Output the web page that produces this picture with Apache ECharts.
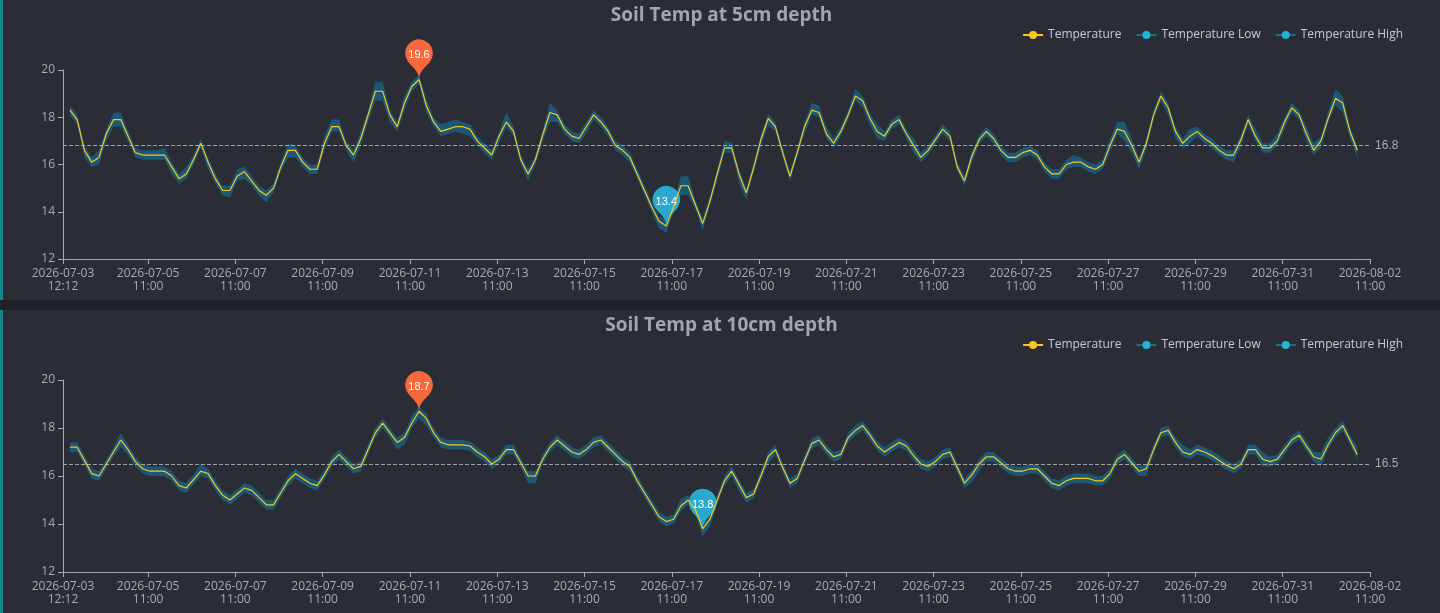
<!DOCTYPE html>
<html lang="en">
<head>
<meta charset="utf-8">
<title>Soil Temp</title>
<script src="https://cdn.jsdelivr.net/npm/echarts@6/dist/echarts.min.js"></script>
<style>
  html, body { margin: 0; padding: 0; background: #1f2226; width: 1440px; height: 613px; overflow: hidden; }
  .panel { position: absolute; left: 0; width: 1440px; background: #2a2d35; border-left: 3px solid #17858a; box-sizing: border-box; }
  #c5 { top: 0; height: 300px; }
  #c10 { top: 310px; height: 303px; }
</style>
</head>
<body>
<div id="c5" class="panel"></div>
<div id="c10" class="panel"></div>
<script>
// readings every 4 hours, first at 2026-07-03 16:00
var temp5 = [18.3,17.9,16.6,16.1,16.3,17.3,17.9,17.9,17.2,16.5,16.4,16.4,16.4,16.4,15.9,15.4,15.6,16.2,16.9,16.1,
  15.4,14.9,14.9,15.5,15.7,15.3,14.9,14.7,15.0,15.9,16.6,16.6,16.1,15.8,15.8,16.9,17.6,17.6,16.8,16.4,
  17.1,18.1,19.1,19.1,18.1,17.6,18.6,19.3,19.6,18.5,17.8,17.4,17.5,17.6,17.6,17.5,17.0,
  16.7,16.4,17.2,17.8,17.4,16.2,15.6,16.2,17.25,18.2,18.1,17.5,17.2,17.1,17.6,18.1,17.8,17.4,16.8,16.6,
  16.3,15.6,14.9,14.2,13.6,13.4,14.2,15.1,15.1,14.3,13.5,14.45,15.6,16.7,16.7,15.6,14.8,15.85,17.05,17.95,
  17.6,16.5,15.5,16.5,17.6,18.3,18.2,17.3,16.9,17.4,18.1,18.9,18.7,17.95,17.4,17.2,17.7,17.9,17.3,16.8,
  16.3,16.6,17.05,17.5,17.2,15.9,15.3,
  16.35,17.05,17.4,17.1,16.6,16.3,16.3,16.5,16.6,16.4,15.9,15.6,15.6,16.0,16.1,16.1,15.9,15.8,16.0,16.8,
  17.5,17.4,16.8,16.1,16.9,18.1,18.9,18.4,17.4,16.9,17.2,17.4,17.1,16.9,16.6,16.4,16.4,17.05,17.9,17.2,
  16.7,16.7,17.0,17.8,18.4,18.1,17.3,16.6,17.0,17.95,18.8,18.6,17.4,16.6];
// band below / above the reading, in steps of 0.1 °C
var lowGap5 = [2,2,3,2,3,3,3,3,2,2,2,2,2,2,3,2,2,2,2,3,2,2,3,2,3,2,2,3,2,2,3,3,2,2,2,3,2,2,2,3,
  3,3,4,4,3,2,3,2,2,3,2,2,2,2,3,3,2, 2,2,3,2,2,2,3,2,3,4,3,2,2,2,3,2,2,2,2,2,2,2,2,2,3,3,2,4,4,2,3,2,3,2,
  2,4,3,2,3,3,2,2,2,2,3,2,2,2,2,2,2,2,3,3,3,2,2,2,2,3,2,2,2,2,2,2,2,
  3,2,2,2,2,2,2,2,2,2,2,2,2,2,2,2,2,2,2,3,2,4,3,3,3,2,2,3,3,2,3,2,2,2,2,2,3,3,2,2,2,2,2,3,2,2,3,2,3,2,3,4,3,3];
var highGap5 = [2,2,2,2,3,2,3,3,2,2,2,2,2,3,2,2,3,2,2,2,2,2,2,3,2,2,2,2,2,2,3,2,2,2,2,3,3,3,2,2,
  3,2,4,4,2,2,3,2,2,3,2,3,3,3,2,2,2, 2,2,2,4,2,2,2,2,2,4,2,2,2,2,2,2,2,2,2,2,2,2,2,2,2,3,3,4,4,2,2,2,2,3,2,
  2,2,2,2,2,2,2,2,2,2,3,3,3,2,2,2,3,2,2,3,2,2,2,2,3,2,2,2,2,2,2,2,2,
  2,2,2,2,2,2,2,2,2,2,2,2,2,3,2,2,2,2,3,3,4,3,2,2,2,2,2,2,2,3,2,2,2,2,2,2,2,2,3,2,2,3,2,2,2,3,3,2,3,4,3,2,2];

var temp10 = [17.2,17.2,16.65,16.1,16.0,16.5,17.0,17.5,17.1,16.6,16.3,16.2,16.2,16.2,16.0,15.6,15.5,15.85,16.2,16.1,
  15.6,15.2,15.0,15.25,15.5,15.4,15.1,14.8,14.8,15.3,15.8,16.1,15.9,15.7,15.6,16.05,16.6,16.9,16.6,16.3,
  16.4,17.1,17.8,18.2,17.8,17.4,17.6,18.2,18.7,18.4,17.8,17.4,17.3,17.3,17.3,17.25,17.0,
  16.8,16.5,16.7,17.1,17.1,16.55,16.0,16.0,16.7,17.2,17.5,17.25,17.0,16.9,17.1,17.4,17.5,17.2,16.9,16.6,
  16.4,15.8,15.3,14.8,14.3,14.1,14.2,14.75,15.0,14.6,13.8,14.2,15.0,15.8,16.2,15.65,15.1,15.25,16.0,16.8,
  17.1,16.35,15.7,15.9,16.65,17.35,17.5,17.1,16.8,16.9,17.6,17.9,18.1,17.7,17.25,17.0,17.2,17.4,17.25,16.85,
  16.5,16.4,16.6,16.9,17.0,16.35,15.7,
  16.05,16.5,16.8,16.8,16.55,16.3,16.2,16.2,16.3,16.3,16.0,15.7,15.6,15.8,15.9,15.9,15.9,15.8,15.8,16.1,
  16.7,16.9,16.55,16.2,16.3,17.1,17.8,17.9,17.4,17.0,16.9,17.1,17.0,16.85,16.65,16.45,16.3,16.5,17.1,17.1,
  16.7,16.6,16.7,17.1,17.5,17.7,17.25,16.8,16.7,17.3,17.8,18.1,17.5,16.9];
var lowGap10 = [2,2,2,2,2,2,2,3,2,2,2,2,2,2,2,2,2,2,2,2,2,2,2,2,2,2,2,2,2,2,2,2,2,2,2,2,2,2,2,2,
  2,2,2,2,2,3,3,2,3,3,2,2,2,2,2,2,2, 2,2,2,2,2,2,3,3,2,2,2,2,2,2,2,2,2,2,2,2,2,2,2,2,2,2,2,2,2,2,3,3,2,2,2,
  3,2,2,2,3,2,2,2,2,2,2,2,2,2,2,2,2,2,2,2,2,2,2,2,2,2,2,2,2,2,2,2,3,
  3,2,2,2,2,2,2,2,2,2,2,2,2,2,2,2,2,2,2,2,2,2,2,3,2,2,2,2,2,2,2,2,2,2,2,2,2,2,2,3,2,2,2,2,2,2,2,3,2,2,2,2,2,2];
var highGap10 = [2,2,2,2,2,2,2,3,2,2,2,2,2,2,2,2,2,2,3,2,2,2,2,2,2,2,2,2,2,2,2,2,2,2,2,2,2,2,2,2,
  2,2,2,2,2,2,2,3,2,2,2,2,2,2,2,2,2, 2,2,2,2,2,2,2,2,2,2,2,2,2,2,2,2,2,2,2,2,2,2,2,2,2,2,2,3,2,2,2,2,2,2,2,
  2,2,2,2,2,2,2,2,2,2,2,2,2,2,2,2,2,2,2,2,2,2,2,2,2,2,2,2,2,2,2,2,2,
  2,2,2,2,2,2,2,2,2,2,2,2,2,2,2,2,2,2,2,2,2,2,2,2,2,2,2,2,3,2,2,2,2,2,2,2,2,2,2,3,2,2,2,2,2,2,2,3,3,2,2,2,3,2];

var avg5 = 16.8, avg10 = 16.5;

var H = 3600 * 1000;
var firstTs = Date.UTC(2026, 6, 3, 16, 0);
var axisMin = Date.UTC(2026, 6, 3, 12, 12);
var axisMax = Date.UTC(2026, 7, 2, 11, 0);
var tickTs = [axisMin];
for (var d = 5; d <= 33; d += 2) tickTs.push(Date.UTC(2026, 6, d, 11, 0));

function pad(n) { return (n < 10 ? '0' : '') + n; }
function fmt(v) {
  var t = new Date(v);
  return t.getUTCFullYear() + '-' + pad(t.getUTCMonth() + 1) + '-' + pad(t.getUTCDate()) +
    '\n' + pad(t.getUTCHours()) + ':' + pad(t.getUTCMinutes());
}

function build(title, temp, lowGap, highGap, avg) {
  var mid = [], low = [], high = [];
  for (var i = 0; i < temp.length; i++) {
    var t = firstTs + i * 4 * H;
    mid.push([t, temp[i]]);
    low.push([t, +(temp[i] - (lowGap[i] || 2) / 10).toFixed(2)]);
    high.push([t, +(temp[i] + (highGap[i] || 2) / 10).toFixed(2)]);
  }
  var axisCol = '#a9abb0';
  var bg = '#2a2d35';
  return {
    backgroundColor: bg,
    animation: false,
    title: { text: title, left: 'center', top: 1,
      textStyle: { color: '#a3a5aa', fontSize: 19, fontWeight: 'bold', fontFamily: 'Open Sans' } },
    legend: {
      right: 32, top: 24, itemWidth: 20, itemHeight: 10, itemGap: 14,
      textStyle: { color: '#c9cbd0', fontSize: 12, fontFamily: 'Open Sans' },
      data: [
        { name: 'Temperature' },
        { name: 'Temperature Low', itemStyle: { color: '#22b5d4' }, lineStyle: { color: '#1c6f8c', width: 2 } },
        { name: 'Temperature High', itemStyle: { color: '#22b5d4' }, lineStyle: { color: '#1c6f8c', width: 2 } }
      ]
    },
    grid: { left: 60, right: 70, top: 70, bottom: 41 },
    xAxis: {
      type: 'value', min: axisMin, max: axisMax,
      axisLine: { lineStyle: { color: axisCol } },
      axisTick: { show: true, customValues: tickTs, lineStyle: { color: axisCol } },
      axisLabel: { customValues: tickTs, formatter: fmt, color: axisCol, fontSize: 12, lineHeight: 13,
        fontFamily: 'Open Sans' },
      splitLine: { show: false }
    },
    yAxis: {
      type: 'value', min: 12, max: 20, interval: 2,
      axisLine: { show: true, lineStyle: { color: axisCol } },
      axisTick: { show: true, lineStyle: { color: axisCol } },
      axisLabel: { color: axisCol, fontSize: 12, fontFamily: 'Open Sans' },
      splitLine: { show: false }
    },
    series: [
      // high area in band colour, low area painted over it in background colour
      { name: 'Temperature High', type: 'line', data: high, symbol: 'none', z: 1,
        itemStyle: { color: '#22b5d4' }, lineStyle: { width: 0 },
        areaStyle: { color: '#1c5875', opacity: 1, origin: 'start' } },
      { name: 'Temperature Low', type: 'line', data: low, symbol: 'none', z: 2,
        itemStyle: { color: '#22b5d4' }, lineStyle: { width: 0 },
        areaStyle: { color: bg, opacity: 1, origin: 'start' } },
      { name: 'Temperature', type: 'line', data: mid, symbol: 'none', z: 5,
        itemStyle: { color: '#f7c81e' }, lineStyle: { color: '#f7c81e', width: 1.2 },
        markPoint: {
          symbolSize: 46,
          label: { color: '#fff', fontSize: 11 },
          data: [
            { type: 'max', itemStyle: { color: '#f7683c' } },
            { type: 'min', itemStyle: { color: '#2aa9cc' } }
          ]
        },
        markLine: {
          symbol: 'none', silent: true,
          lineStyle: { color: '#a0a2a6', type: 'dashed', width: 1 },
          label: { position: 'end', color: axisCol, fontSize: 12, formatter: avg.toFixed(1) },
          data: [{ yAxis: avg }]
        }
      }
    ]
  };
}

var c5 = echarts.init(document.getElementById('c5'));
c5.setOption(build('Soil Temp at 5cm depth', temp5, lowGap5, highGap5, avg5));
var c10 = echarts.init(document.getElementById('c10'));
c10.setOption(build('Soil Temp at 10cm depth', temp10, lowGap10, highGap10, avg10));
</script>
</body>
</html>
